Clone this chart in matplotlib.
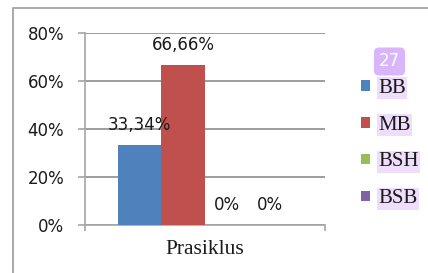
import matplotlib
matplotlib.use("Agg")
import matplotlib.pyplot as plt
from matplotlib.lines import Line2D
from matplotlib.patches import Patch
import numpy as np

categories = ["Prasiklus"]
series = ["BB", "MB", "BSH", "BSB"]
values = [33.34, 66.66, 0, 0]
value_labels = ["33,34%", "66,66%", "0%", "0%"]
colors = ["#4F81BD", "#C0504D", "#9BBB59", "#8064A2"]
yticks = [0, 20, 40, 60, 80]
ytick_labels = ["0%", "20%", "40%", "60%", "80%"]

W, H = 428, 273
fig = plt.figure(figsize=(W / 100, H / 100), dpi=100)
fig.patch.set_facecolor("white")

# outer frame (top and left visible)
fig.add_artist(Line2D([13 / W, 13 / W, 1.0], [0.0, 1 - 8 / H, 1 - 8 / H],
                      transform=fig.transFigure, color="#a8a8a8", lw=1.4))

ax = fig.add_axes([85 / W, (H - 225) / H, 240 / W, (225 - 33) / H])
ax.set_xlim(-0.5, 0.5)
ax.set_ylim(0, 80)

bw = 0.1813
offsets = (np.arange(len(series)) - 1.5) * bw
for i, (s, v, c, lab) in enumerate(zip(series, values, colors, value_labels)):
    ax.bar(offsets[i], v, width=bw, color=c, label=s, zorder=3)
    ax.annotate(lab, (offsets[i], v), xytext=(0, 14.5), textcoords="offset points",
                ha="center", va="center", fontsize=12, family="DejaVu Sans",
                color="#1a1a1a", zorder=4)

ax.set_yticks(yticks)
ax.set_yticklabels(ytick_labels, fontsize=12, family="DejaVu Sans", color="#1a1a1a")
ax.yaxis.grid(True, color="#8c8c8c", lw=1.2, zorder=0)
ax.tick_params(axis="y", length=5, width=1.2, color="#a6a6a6", pad=10)

ax.set_xticks([0])
ax.set_xticklabels(categories, fontsize=15.5, family="Liberation Serif", color="#1a1a1a")
ax.set_xticks([-0.5, 0.5], minor=True)
ax.tick_params(axis="x", which="major", length=0, pad=11)
ax.tick_params(axis="x", which="minor", length=4.5, width=1.2, color="#a6a6a6")

for sp in ["top", "right"]:
    ax.spines[sp].set_visible(False)
for sp in ["left", "bottom"]:
    ax.spines[sp].set_color("#a6a6a6")
    ax.spines[sp].set_linewidth(1.2)
ax.set_axisbelow(True)

handles = [Patch(facecolor=c, edgecolor="none") for c in colors]
leg = fig.legend(handles, series, loc="center left", bbox_to_anchor=(361 / W, 1 - 143.5 / H),
                 frameon=False, borderpad=0, borderaxespad=0, handlelength=0.42,
                 handleheight=0.42, handletextpad=0.4, labelspacing=0.86,
                 prop={"family": "Liberation Serif", "size": 15})
for t in leg.get_texts():
    t.set_color("#1a1a1a")
    t.set_bbox(dict(facecolor="#EEDDFB", edgecolor="none", pad=1))

fig.text(389.5 / W, 1 - 61.5 / H, "27", ha="center", va="center", fontsize=12,
         family="DejaVu Sans", color="white",
         bbox=dict(boxstyle="round,pad=0.3", facecolor="#D9B5FB", edgecolor="none"))

fig.savefig("out.png", dpi=100)
